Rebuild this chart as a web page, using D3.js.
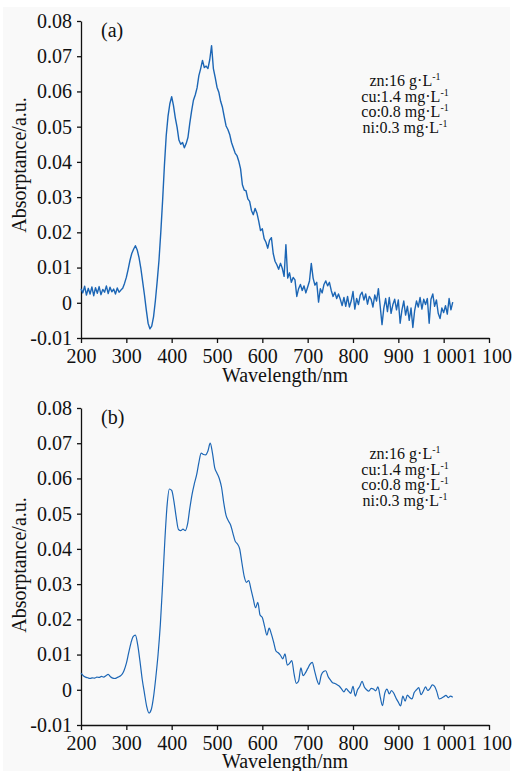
<!DOCTYPE html>
<html>
<head>
<meta charset="utf-8">
<script src="https://cdn.jsdelivr.net/npm/d3@7"></script>
<style>
body { margin: 0; background: #fff; }
text { font-family: "Liberation Serif", "Times New Roman", serif; fill: #111; }
</style>
</head>
<body>
<script>
// wavelength grid (nm)
var wlStart = 200, wlEnd = 1020;
var stepA = 4, stepB = 5;

// (a) raw spectrum, read every 4 nm
var absA = [
    .0040,.0028,.0047,.0022,.0041,.0025,.0045,.0020,.0043,.0027,
    .0046,.0023,.0038,.0030,.0048,.0026,.0044,.0031,.0039,.0025,
    .0042,.0030,.0036,.0041,.0055,.0072,.0095,.0120,.0140,.0152,
    .0162,.0150,.0128,.0098,.0060,.0022,-.0020,-.0058,-.0074,-.0066,
    -.0040,.0005,.0060,.0120,.0200,.0290,.0390,.0475,.0530,.0565,
    .0585,.0560,.0525,.0498,.0462,.0450,.0455,.0440,.0452,.0470,
    .0510,.0545,.0575,.0590,.0610,.0645,.0665,.0688,.0668,.0672,
    .0665,.0690,.0730,.0665,.0640,.0612,.0598,.0572,.0555,.0528,
    .0502,.0492,.0478,.0455,.0440,.0425,.0418,.0402,.0380,.0335,
    .0320,.0318,.0295,.0288,.0262,.0250,.0268,.0255,.0232,.0205,
    .0210,.0182,.0172,.0155,.0178,.0185,.0140,.0118,.0108,.0095,
    .0112,.0098,.0075,.0165,.0070,.0085,.0058,.0072,.0065,.0018,
    .0040,.0052,.0035,.0048,.0028,.0045,.0062,.0112,.0070,.0050,
    .0058,.0002,.0040,.0028,.0052,.0062,.0048,.0058,.0035,.0018,
    .0030,.0012,.0025,.0010,-.0008,.0015,-.0010,.0018,-.0012,.0005,
    .0032,-.0018,.0012,-.0005,.0022,.0030,.0008,.0025,-.0004,.0018,
    .0010,-.0012,.0022,.0005,.0040,-.0010,-.0062,-.0015,.0012,-.0025,
    .0015,-.0030,-.0005,.0010,-.0020,.0008,-.0058,-.0020,.0005,-.0035,
    -.0010,-.0050,-.0015,-.0070,-.0022,.0005,-.0012,.0015,-.0018,.0010,
    -.0005,.0012,-.0058,.0010,.0025,-.0010,.0008,-.0030,-.0045,-.0015,
    -.0028,-.0008,-.0032,.0012,-.0020,.0002
];

// (b) smoothed spectrum, read every 5 nm
var absB = [
    .0047,.0040,.0036,.0034,.0032,.0034,.0033,.0036,.0035,.0038,
    .0036,.0040,.0044,.0037,.0033,.0032,.0035,.0038,.0043,.0055,
    .0075,.0104,.0132,.0151,.0155,.0128,.0082,.0030,-.0010,-.0048,
    -.0066,-.0056,-.0020,.0035,.0100,.0185,.0300,.0425,.0525,.0570,
    .0566,.0535,.0490,.0455,.0452,.0456,.0452,.0470,.0515,.0555,
    .0585,.0610,.0645,.0672,.0668,.0667,.0678,.0700,.0672,.0630,
    .0615,.0600,.0575,.0530,.0495,.0480,.0468,.0445,.0422,.0414,
    .0400,.0360,.0322,.0305,.0310,.0285,.0258,.0233,.0248,.0212,
    .0205,.0180,.0155,.0175,.0158,.0135,.0110,.0105,.0098,.0088,
    .0102,.0070,.0075,.0083,.0045,.0018,.0025,.0062,.0040,.0048,
    .0060,.0072,.0078,.0055,.0030,.0015,.0042,.0052,.0054,.0038,
    .0028,.0020,.0018,.0014,.0010,.0002,-.0006,.0003,-.0004,-.0010,
    .0010,-.0018,.0000,.0010,.0024,.0008,.0000,-.0004,.0004,.0002,
    -.0003,.0008,-.0020,-.0045,-.0010,.0002,-.0012,-.0002,-.0010,-.0024,
    -.0035,-.0046,-.0018,-.0032,-.0015,-.0022,-.0026,-.0008,.0000,.0006,
    -.0014,-.0004,.0008,-.0002,.0004,.0014,.0010,-.0006,-.0026,-.0024,
    -.0020,-.0016,-.0022,-.0018,-.0021
];

var xTicks = [200, 300, 400, 500, 600, 700, 800, 900, 1000, 1100];
var xTickLabels = ["200", "300", "400", "500", "600", "700", "800", "900", "1 000", "1 100"];
var yTicks = [-0.01, 0, 0.01, 0.02, 0.03, 0.04, 0.05, 0.06, 0.07, 0.08];
var yTickLabels = ["-0.01", "0", "0.01", "0.02", "0.03", "0.04", "0.05", "0.06", "0.07", "0.08"];
var legendLabels = ["zn:16 g·L", "cu:1.4 mg·L", "co:0.8 mg·L", "ni:0.3 mg·L"];
var legendExp = "-1";
var xTitle = "Wavelength/nm", yTitle = "Absorptance/a.u.";

var w = 512, h = 771;
var lineColor = "#1c66b5";
var svg = d3.select("body").append("svg").attr("width", w).attr("height", h);

svg.append("rect")
    .attr("x", 3).attr("y", 7)
    .attr("width", 507).attr("height", h - 7)
    .attr("fill", "#f9f9f9");

var x = d3.scaleLinear().domain([200, 1100]).range([81, 489]);

function drawPanel(values, step, p) {
    var y = d3.scaleLinear().domain([-0.01, 0.08]).range([p.bottom, p.top]);
    var pts = values.map((v, i) => [wlStart + i * step, v]);

    var g = svg.append("g");

    var xAxis = d3.axisBottom(x)
        .tickValues(xTicks)
        .tickFormat((d, i) => xTickLabels[i])
        .tickSize(5).tickSizeOuter(0).tickPadding(6);
    var yAxis = d3.axisLeft(y)
        .tickValues(yTicks)
        .tickFormat((d, i) => yTickLabels[i])
        .tickSize(4).tickSizeOuter(0).tickPadding(5);

    var xa = g.append("g")
        .attr("transform", "translate(0," + p.bottom + ")")
        .call(xAxis);
    var ya = g.append("g")
        .attr("transform", "translate(" + x.range()[0] + ",0)")
        .call(yAxis);
    [xa, ya].forEach(a => {
        a.selectAll("path, line").attr("stroke", "#111").attr("stroke-width", 1.3);
        a.selectAll("text")
            .style("font-family", '"Liberation Serif", serif')
            .style("font-size", "20px")
            .attr("fill", "#111");
    });

    var line = d3.line()
        .x(d => x(d[0]))
        .y(d => y(d[1]));
    if (p.smooth) line.curve(d3.curveMonotoneX);

    g.append("path")
        .datum(pts)
        .attr("fill", "none")
        .attr("stroke", lineColor)
        .attr("stroke-width", p.lw)
        .attr("stroke-linejoin", "round")
        .attr("d", line);

    g.append("text")
        .attr("x", 101).attr("y", p.tagY)
        .style("font-size", "20px")
        .text(p.tag);

    legendLabels.forEach((s, i) => {
        var t = g.append("text")
            .attr("x", 405).attr("y", p.legendY + i * 15.5)
            .attr("text-anchor", "middle")
            .style("font-size", "16px");
        t.append("tspan").text(s);
        t.append("tspan").text(legendExp)
            .style("font-size", "10px")
            .attr("dy", -6);
    });

    g.append("text")
        .attr("x", 285).attr("y", p.xTitleY)
        .attr("text-anchor", "middle")
        .style("font-size", "20px")
        .text(xTitle);

    g.append("text")
        .attr("transform", "translate(26," + p.yTitleY + ") rotate(-90)")
        .attr("text-anchor", "middle")
        .style("font-size", "20px")
        .text(yTitle);
}

drawPanel(absA, stepA, { top: 21, bottom: 338, tag: "(a)", tagY: 37, legendY: 86, xTitleY: 382, yTitleY: 165, smooth: false, lw: 1.4 });
drawPanel(absB, stepB, { top: 408, bottom: 725, tag: "(b)", tagY: 424, legendY: 459, xTitleY: 768, yTitleY: 565, smooth: true, lw: 1.2 });
</script>
</body>
</html>
